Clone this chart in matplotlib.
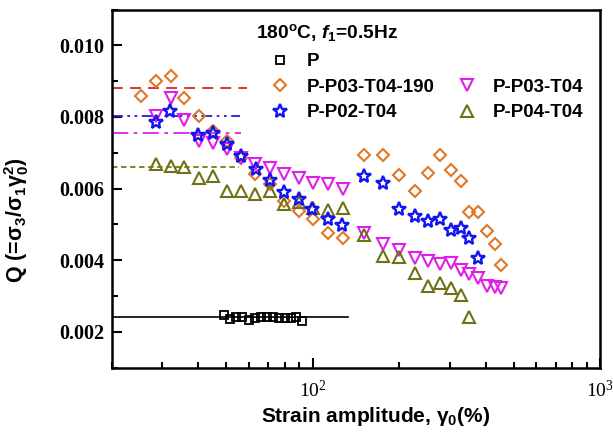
import matplotlib
matplotlib.use("Agg")
import matplotlib.pyplot as plt
from matplotlib.lines import Line2D
from matplotlib.ticker import MultipleLocator, LogLocator, NullFormatter

plt.rcParams['font.family'] = ['Liberation Sans', 'DejaVu Sans']
plt.rcParams['mathtext.fontset'] = 'custom'
plt.rcParams['mathtext.it'] = 'Liberation Sans:italic:bold'
plt.rcParams['mathtext.rm'] = 'Liberation Sans:bold'

# P
strain_p = [49.1, 51.8, 54.3, 57.0, 59.9, 62.9, 66.0, 69.2, 72.6, 76.2, 80.0, 83.9, 87.8, 91.9]
q_p = [0.00247, 0.00235, 0.00242, 0.00240, 0.00233, 0.00238, 0.00240, 0.00240, 0.00242, 0.00238, 0.00238, 0.00238, 0.00240, 0.00229]

# P-P03-T04-190
strain_190 = [25.4, 28.5, 32.1, 35.8, 40.2, 45.2, 50.5, 56.3, 63.2, 71.2, 79.4, 90.0, 100.5, 113.1, 127.4,
              150.8, 176.4, 200.0, 226.4, 252.2, 277.6, 301.9, 327.6, 350.9, 376.1, 404.3, 429.9, 453.5]
q_190 = [0.00858, 0.00900, 0.00914, 0.00854, 0.00802, 0.00761, 0.00733, 0.00686, 0.00640, 0.00612,
         0.00565, 0.00538, 0.00514, 0.00477, 0.00461,
         0.00693, 0.00693, 0.00638, 0.00593, 0.00644, 0.00693, 0.00651, 0.00621, 0.00535, 0.00535,
         0.00482, 0.00446, 0.00386]

# P-P02-T04
strain_p02 = [28.5, 32.0, 40.0, 45.1, 50.5, 56.5, 63.5, 71.3, 79.8, 89.4, 99.8, 112.9, 126.8,
              150.8, 176.4, 200.0, 226.4, 252.2, 277.6, 301.9, 327.6, 350.9, 376.1]
q_p02 = [0.00787, 0.00816, 0.00749, 0.00756, 0.00724, 0.00691, 0.00654, 0.00623, 0.00591, 0.00570,
         0.00542, 0.00514, 0.00497,
         0.00635, 0.00616, 0.00542, 0.00524, 0.00510, 0.00514, 0.00484, 0.00490, 0.00462, 0.00407]

# P-P03-T04
strain_p03 = [28.5, 32.1, 35.8, 40.2, 45.2, 50.5, 56.3, 63.2, 71.2, 79.4, 90.0, 100.5, 113.1, 127.4,
              150.8, 176.4, 200.0, 226.4, 252.2, 277.6, 301.9, 327.6, 350.9, 376.1, 404.3, 429.9, 453.5]
q_p03 = [0.00802, 0.00854, 0.00791, 0.00733, 0.00728, 0.00710, 0.00684, 0.00668, 0.00658, 0.00641,
         0.00630, 0.00616, 0.00614, 0.00598,
         0.00477, 0.00446, 0.00428, 0.00407, 0.00398, 0.00389, 0.00393, 0.00374, 0.00361, 0.00351,
         0.00327, 0.00325, 0.00321]

# P-P04-T04
strain_p04 = [28.5, 32.1, 35.8, 40.2, 45.2, 50.5, 56.3, 63.2, 71.2, 79.4, 90.0, 100.5, 113.1, 127.4,
              150.8, 176.4, 200.0, 226.4, 252.2, 277.6, 301.9, 327.6, 350.9]
q_p04 = [0.00669, 0.00662, 0.00659, 0.00630, 0.00635, 0.00593, 0.00593, 0.00585, 0.00593, 0.00557,
         0.00563, 0.00546, 0.00539, 0.00545,
         0.00469, 0.00411, 0.00408, 0.00363, 0.00327, 0.00335, 0.00323, 0.00302, 0.00242]

# plateau reference lines
ref_levels = [0.00880, 0.00804, 0.00756, 0.00660]
ref_ends = [59.0, 56.0, 56.5, 55.3]
ref_colors = ['#E02020', '#2020E0', '#E020E8', '#7A7A10']
ref_styles = [(0, (6, 4)), (0, (6, 2.5, 1.5, 2.5, 1.5, 2.5)), (0, (9, 3, 2, 3)), (0, (3, 2))]
p_level = 0.00242
p_end = 133.0

c_orange = '#E07828'
c_blue = '#1414F0'
c_mag = '#E01EEA'
c_olive = '#6E7214'

fig = plt.figure(figsize=(6.13, 4.32), dpi=100)
ax = fig.add_axes([0.182, 0.149, 0.797, 0.829])

for lvl, end, col, ls in zip(ref_levels, ref_ends, ref_colors, ref_styles):
    ax.plot([20, end], [lvl, lvl], color=col, linestyle=ls, linewidth=1.3)
ax.plot([20, p_end], [p_level, p_level], color='black', linewidth=1.2)

mew = 1.5
h_p, = ax.plot(strain_p, q_p, 's', ms=5.5, mfc='none', mec='black', mew=1.3, label='P')
h_190, = ax.plot(strain_190, q_190, 'D', ms=6.6, mfc='none', mec=c_orange, mew=mew, label='P-P03-T04-190')
h_p03, = ax.plot(strain_p03, q_p03, 'v', ms=8.5, mfc='none', mec=c_mag, mew=mew, label='P-P03-T04')
h_p04, = ax.plot(strain_p04, q_p04, '^', ms=8.5, mfc='none', mec=c_olive, mew=mew, label='P-P04-T04')
h_p02, = ax.plot(strain_p02, q_p02, '*', ms=10, mfc='none', mec=c_blue, mew=1.7, label='P-P02-T04')

ax.set_xscale('log')
ax.set_xlim(20, 1000)
ax.set_ylim(0.001, 0.011)

ax.yaxis.set_major_locator(MultipleLocator(0.002))
ax.yaxis.set_minor_locator(MultipleLocator(0.001))
ax.set_yticks([0.002, 0.004, 0.006, 0.008, 0.010])
ax.set_yticklabels(['0.002', '0.004', '0.006', '0.008', '0.010'],
                   fontfamily='Liberation Serif', fontweight='bold', fontsize=14.5)
ax.set_xticks([100, 1000])
ax.set_xticklabels([r'$\mathregular{10^{2}}$', r'$\mathregular{10^{3}}$'],
                   fontfamily='Liberation Serif', fontsize=14)
ax.xaxis.set_minor_locator(LogLocator(base=10, subs=range(2, 10)))
ax.xaxis.set_minor_formatter(NullFormatter())

ax.tick_params(which='both', direction='in', top=False, right=False, width=1.5)
ax.tick_params(which='major', length=7)
ax.tick_params(which='minor', length=4)
ax.tick_params(axis='x', pad=9)
ax.tick_params(axis='y', pad=5)
for sp in ax.spines.values():
    sp.set_linewidth(1.8)

ax.set_xlabel(r'Strain amplitude, $\mathregular{\gamma_{0}}$(%)', fontsize=15, fontweight='bold')
ax.xaxis.set_label_coords(0.54, -0.105)
ax.set_ylabel(r'Q (=$\mathregular{\sigma_{3}/\sigma_{1}\gamma_{0}^{2}}$)', fontsize=15.5, fontweight='bold')
ax.yaxis.set_label_coords(-0.165, 0.41)

ax.text(0.295, 0.935, r'180$^\mathregular{o}$C, $f_\mathregular{1}$=0.5Hz', transform=ax.transAxes,
        fontsize=13.8, fontweight='bold', ha='left', va='center')

blank = Line2D([], [], linestyle='none', marker='none')
handles = [h_p, h_190, h_p02, blank, h_p03, h_p04]
labels = ['P', 'P-P03-T04-190', 'P-P02-T04', '', 'P-P03-T04', 'P-P04-T04']
ax.legend(handles, labels, ncol=2, frameon=False, loc='upper left',
          bbox_to_anchor=(271 / 613, 1 - 53 / 432), bbox_transform=fig.transFigure,
          borderpad=0, borderaxespad=0, handlelength=1.0, handletextpad=0.9,
          columnspacing=1.23, labelspacing=0.45, prop={'weight': 'bold', 'size': 13.5})

fig.savefig('out.png', dpi=100)
